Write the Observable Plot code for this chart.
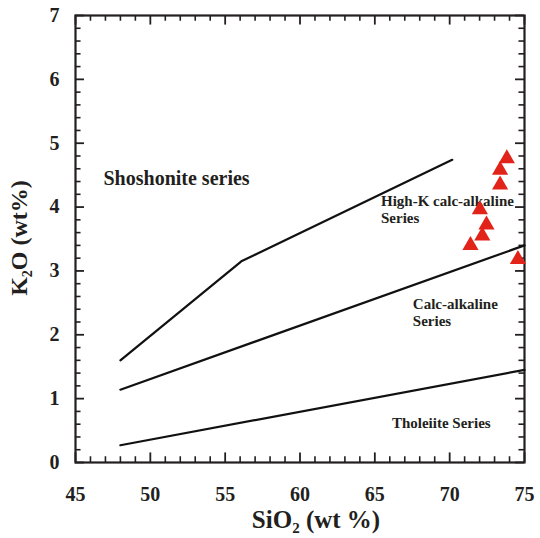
<!DOCTYPE html>
<html><head><meta charset="utf-8">
<script src="https://cdn.jsdelivr.net/npm/d3@7"></script>
<script src="https://cdn.jsdelivr.net/npm/@observablehq/plot@0.6"></script>
<style>body{margin:0;background:#fff}</style>
</head><body><div id="chart"></div>
<script>
// Boundary lines (SiO2 wt%, K2O wt%)
const sio2Shoshonite = [48, 56.08, 70.17];
const k2oShoshonite = [1.60, 3.15, 4.74];
const sio2HighK = [48, 75];
const k2oHighK = [1.14, 3.40];
const sio2Tholeiite = [48, 75];
const k2oTholeiite = [0.27, 1.45];

// Samples
const sampleSiO2 = [73.82, 73.37, 73.37, 72.02, 72.46, 72.18, 71.39, 74.56];
const sampleK2O  = [4.76, 4.58, 4.35, 3.96, 3.72, 3.55, 3.40, 3.18];

// Field labels
const fieldNames = ["Shoshonite series", "High-K calc-alkaline\nSeries", "Calc-alkaline\nSeries", "Tholeiite Series"];
const fieldSiO2 = [46.87, 65.41, 67.54, 66.14];
const fieldK2O  = [4.45, 3.97, 2.36, 0.63];

// Ticks
const xTicks = [45, 50, 55, 60, 65, 70, 75];
const yTicks = [0, 1, 2, 3, 4, 5, 6, 7];
const xMinor = d3.range(45, 75.01, 1).filter(v => v % 5 !== 0);
const yMinor = d3.range(0, 7.001, 0.2).map(v => +v.toFixed(1)).filter(v => Math.abs(v - Math.round(v)) > 1e-6);

const line = (xs, ys) => xs.map((x, i) => ({x, y: ys[i]}));
const samples = sampleSiO2.map((x, i) => ({x, y: sampleK2O[i]}));
const fields = fieldNames.map((t, i) => ({t, x: fieldSiO2[i], y: fieldK2O[i]}));

const ink = "#231f20";
const font = "Liberation Serif";
const xMaj = 0.6, xMin = 0.37, yMaj = 0.15, yMin = 0.09;

const svg = Plot.plot({
  width: 540, height: 538,
  marginLeft: 75, marginTop: 15, marginRight: 16, marginBottom: 76,
  x: {domain: [45, 75]},
  y: {domain: [0, 7]},
  style: {fontFamily: font, fontWeight: "bold", fontSize: "20px", color: ink, background: "#fff"},
  marks: [
    Plot.ruleY(yTicks, {y: d => d, x1: 45, x2: 45 + xMaj, stroke: ink, strokeWidth: 1.8}),
    Plot.ruleY(yMinor, {y: d => d, x1: 45, x2: 45 + xMin, stroke: ink, strokeWidth: 1.6}),
    Plot.ruleY(yTicks, {y: d => d, x1: 75 - xMaj, x2: 75, stroke: ink, strokeWidth: 1.8}),
    Plot.ruleY(yMinor, {y: d => d, x1: 75 - xMin, x2: 75, stroke: ink, strokeWidth: 1.6}),
    Plot.ruleX(xTicks, {x: d => d, y1: 0, y2: yMaj, stroke: ink, strokeWidth: 1.8}),
    Plot.ruleX(xMinor, {x: d => d, y1: 0, y2: yMin, stroke: ink, strokeWidth: 1.6}),
    Plot.ruleX(xTicks, {x: d => d, y1: 7 - yMaj, y2: 7, stroke: ink, strokeWidth: 1.8}),
    Plot.ruleX(xMinor, {x: d => d, y1: 7 - yMin, y2: 7, stroke: ink, strokeWidth: 1.6}),
    Plot.frame({stroke: ink, strokeWidth: 2.2}),
    Plot.axisX(xTicks, {tickSize: 0, tickPadding: 24, label: null, fill: ink, tickFormat: d => String(d)}),
    Plot.axisY(yTicks, {tickSize: 0, tickPadding: 16, label: null, fill: ink, tickFormat: d => String(d)}),
    Plot.line(line(sio2Shoshonite, k2oShoshonite), {x: "x", y: "y", stroke: "#111", strokeWidth: 2.2}),
    Plot.line(line(sio2HighK, k2oHighK), {x: "x", y: "y", stroke: "#111", strokeWidth: 2.2}),
    Plot.line(line(sio2Tholeiite, k2oTholeiite), {x: "x", y: "y", stroke: "#111", strokeWidth: 2.2}),
    Plot.text(fields.slice(0, 1), {x: "x", y: "y", text: "t", textAnchor: "start", lineAnchor: "middle", fontSize: 20, fill: ink}),
    Plot.text(fields.slice(1), {x: "x", y: "y", text: "t", textAnchor: "start", lineAnchor: "middle", fontSize: 15, lineHeight: 1.13, fill: ink}),
    Plot.dot(samples, {x: "x", y: "y", symbol: "triangle", r: 6, fill: "#e2231a", stroke: "none"})
  ]
});

const s = d3.select(svg);
const yl = s.append("text")
  .attr("transform", "translate(27,238) rotate(-90)")
  .attr("text-anchor", "middle")
  .attr("font-family", font)
  .attr("font-size", 24).attr("font-weight", "bold").attr("fill", ink);
yl.append("tspan").text("K");
yl.append("tspan").attr("font-size", 14).attr("dy", 5).text("2");
yl.append("tspan").attr("dy", -5).text("O (wt%)");

const xl = s.append("text")
  .attr("x", 316).attr("y", 528)
  .attr("text-anchor", "middle")
  .attr("font-family", font)
  .attr("font-size", 25).attr("font-weight", "bold").attr("fill", ink);
xl.append("tspan").text("SiO");
xl.append("tspan").attr("font-size", 15).attr("dy", 5).text("2");
xl.append("tspan").attr("dy", -5).text(" (wt %)");

document.getElementById("chart").appendChild(svg);
</script>
</body></html>
